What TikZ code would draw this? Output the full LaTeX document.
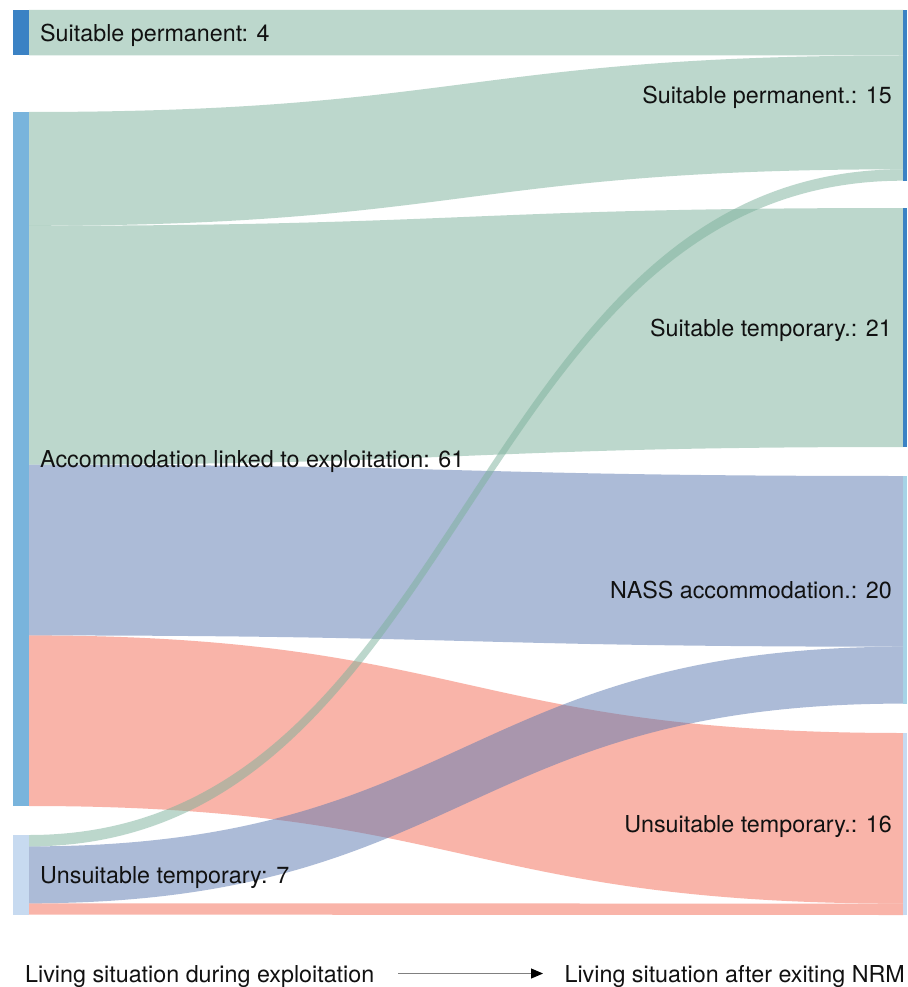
\documentclass[tikz,border=0pt]{standalone}
\usepackage{fontspec}
\setmainfont{TeX Gyre Heros}
\usetikzlibrary{arrows.meta}
\definecolor{flowgreen}{HTML}{7BB19B}
\definecolor{flowblue}{HTML}{5B79B1}
\definecolor{flowred}{HTML}{F56A54}
\definecolor{bardark}{HTML}{3B82C4}
\definecolor{barmid}{HTML}{79B4DC}
\definecolor{barlight}{HTML}{C7DAF0}
\definecolor{barteal}{HTML}{A6D3E6}
\definecolor{txt}{HTML}{111111}
\newcommand{\sankeyflow}[5]{%
  \fill[#1] (29,#2) .. controls (466,#2) and (466,#4) .. (903,#4)
    -- (903,#5) .. controls (466,#5) and (466,#3) .. (29,#3) -- cycle;}
\tikzset{
  leftbar/.style={rectangle, inner sep=0pt, draw=none, minimum width=16pt},
  rightbar/.style={rectangle, inner sep=0pt, draw=none, minimum width=4pt},
  lbl/.style={inner sep=0pt, text=txt, font=\fontsize{23.3}{28}\selectfont},
  gflow/.style={fill=flowgreen, fill opacity=0.5},
  bflow/.style={fill=flowblue, fill opacity=0.5},
  rflow/.style={fill=flowred, fill opacity=0.5},
}
\begin{document}
\begin{tikzpicture}[x=1pt,y=-1pt]
\fill[white] (0,0) rectangle (907,987);
\useasboundingbox (0,0) rectangle (907,987);
% flows: red first, then blue, then green
\sankeyflow{rflow}{635.4}{806}{733}{903.6}
\sankeyflow{rflow}{903.3}{914.6}{903.6}{915}
\sankeyflow{bflow}{464.7}{635.4}{476}{646.7}
\sankeyflow{bflow}{846.4}{903.3}{646.7}{703.6}
\sankeyflow{gflow}{10}{55.5}{10}{55.5}
\sankeyflow{gflow}{112}{225.8}{55.5}{169.3}
\sankeyflow{gflow}{225.8}{464.7}{208}{447}
\sankeyflow{gflow}{835}{846.4}{169.3}{180.7}
% left bars
\node[leftbar, fill=bardark, minimum height=45.5pt] (lsp) at (21,32.75) {};
\node[leftbar, fill=barmid, minimum height=694pt] (lacc) at (21,459) {};
\node[leftbar, fill=barlight, minimum height=79.6pt] (lut) at (21,874.8) {};
% right bars
\node[rightbar, fill=bardark, minimum height=170.7pt] (rsp) at (905,95.35) {};
\node[rightbar, fill=bardark, minimum height=239pt] (rst) at (905,327.5) {};
\node[rightbar, fill=barteal, minimum height=227.6pt] (rnass) at (905,589.8) {};
\node[rightbar, fill=barlight, minimum height=182pt] (rut) at (905,824) {};
% labels
\node[lbl, anchor=base west] (tlsp) at (40,41.2) {Suitable permanent: 4};
\node[lbl, anchor=base west] (tlacc) at (40,467.5) {Accommodation linked to exploitation: 61};
\node[lbl, anchor=base west] (tlut) at (40,883.3) {Unsuitable temporary: 7};
\node[lbl, anchor=base east] (trsp) at (892,103.8) {Suitable permanent.: 15};
\node[lbl, anchor=base east] (trst) at (892,336) {Suitable temporary.: 21};
\node[lbl, anchor=base east] (trnass) at (892,598.3) {NASS accommodation.: 20};
\node[lbl, anchor=base east] (trut) at (892,832.5) {Unsuitable temporary.: 16};
% bottom caption
\node[lbl, anchor=base west] (cap1) at (25,982) {Living situation during exploitation};
\node[lbl, anchor=base east] (cap2) at (905,982) {Living situation after exiting NRM};
\coordinate (arrA) at (398,973.5);
\coordinate (arrB) at (543,973.5);
\draw[gray, line width=1pt, -{Triangle[length=12pt,width=10pt,color=black]}] (arrA) -- (arrB);
\end{tikzpicture}
\end{document}
